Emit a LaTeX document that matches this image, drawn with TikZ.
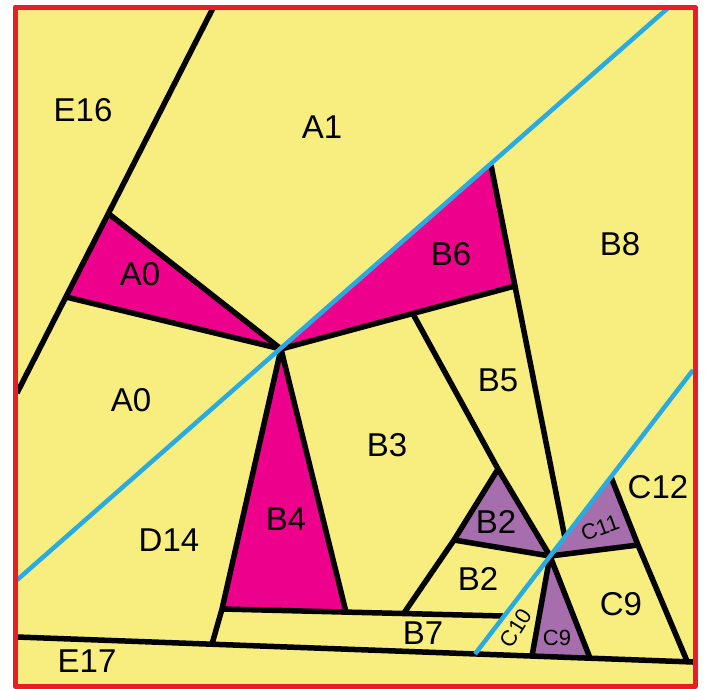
\documentclass[tikz,border=0pt]{standalone}
\usepackage{fontspec}
\setmainfont{Liberation Sans}
\definecolor{paper}{HTML}{F7EE7F}
\definecolor{frame}{HTML}{ED1C24}
\definecolor{hot}{HTML}{EC008C}
\definecolor{lilac}{HTML}{A66EAC}
\definecolor{cut}{HTML}{29ABE2}

\begin{document}
\begin{tikzpicture}[x=1pt,y=-1pt,line join=round,
  edge/.style={line width=5.5pt},
  cutline/.style={cut,line width=4.5pt},
  lab/.style={font=\fontsize{33}{33}\selectfont,inner sep=0pt},
  sm/.style={font=\fontsize{22}{22}\selectfont,inner sep=0pt}]
\useasboundingbox (0,0) rectangle (706,688);
% joints of the plan (pixel grid, y down)
\coordinate (p) at (281,349);
\coordinate (e16t) at (213,8);   \coordinate (e16b) at (17,393);
\coordinate (a0t) at (109,214);  \coordinate (a0b) at (66,297);
\coordinate (b6t) at (491,165);  \coordinate (b6r) at (515,286);
\coordinate (b35) at (413,314);
\coordinate (b2t) at (498,469);  \coordinate (b2l) at (454,540);
\coordinate (q) at (550,556);
\coordinate (b4l) at (222,609);  \coordinate (b4r) at (346,612);
\coordinate (b7j) at (404,613);  \coordinate (b7r) at (503,616);
\coordinate (e17l) at (17,637);  \coordinate (e17r) at (693,662);
\coordinate (e17j) at (212,644);
\coordinate (c1l) at (17,580);   \coordinate (c1t) at (668,8);
\coordinate (c2t) at (693,370);  \coordinate (c2b) at (475,654);
\coordinate (c11t) at (611,477); \coordinate (c11r) at (638,545);
\coordinate (c12b) at (687,661);
\coordinate (c9l) at (532,656);  \coordinate (c9r) at (590,658);
\coordinate (b58) at (intersection of b6t--b6r and c2t--c2b);

\fill[paper] (15,7) rectangle (695,686);
\fill[hot] (a0t)--(a0b)--(p)--cycle (p)--(b6t)--(b6r)--cycle (p)--(b4l)--(b4r)--cycle;
\fill[lilac] (b2t)--(b2l)--(q)--cycle (q)--(c11t)--(c11r)--cycle (q)--(c9l)--(c9r)--cycle;

\draw[edge] (e16t)--(e16b) (a0t)--(p)--(a0b) (p)--(b6r) (b6t)--(b58)
  (b35)--(b2t)--(q)--(b2l) (b7j)--(b2l)--(b2t)
  (b4l)--(p)--(b4r) (b4l)--(b7r) (b4l)--(e17j) (e17l)--(e17r)
  (c11t)--(c11r)--(c12b) (q)--(c11r) (c9l)--(q)--(c9r);
\draw[cutline] (c1l)--(c1t) (c2t)--(c2b);
\draw[frame,line width=5pt] (15,7) rectangle (695,686);

\foreach \t/\x/\y [count=\i] in {E16/83/110,A1/322/127,A0/140/274,B6/451/254,
  B8/620/244,A0/131/400,B5/498/380,B3/387/445,B4/286/519,D14/169/540,
  B2/496/522,B2/478/579,C12/658/487,C9/621/604,B7/423/633,E17/87/661}
  \node[lab] (r\i) at (\x,\y) {\t};
\node[sm,rotate=20] (c11) at (600,528) {C11};
\node[sm] (c9) at (557,638) {C9};
\node[sm,rotate=58] (c10) at (516,628) {C10};
\end{tikzpicture}
\end{document}
